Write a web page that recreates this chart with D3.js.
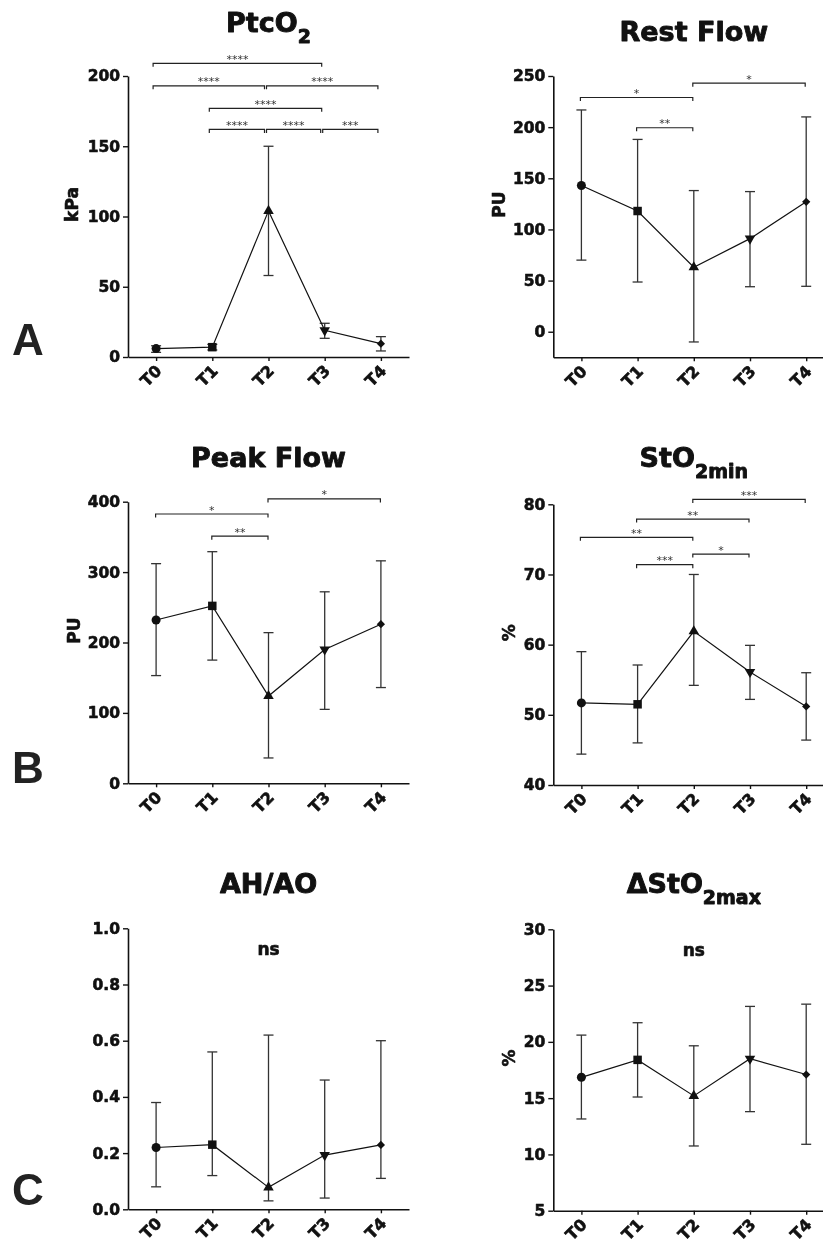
<!DOCTYPE html>
<html>
<head>
<meta charset="utf-8">
<script src="https://cdn.jsdelivr.net/npm/d3@7"></script>
<style>
  body { margin: 0; background: #fff; }
  svg { display: block; filter: grayscale(100%); }
  text { font-family: "DejaVu Sans", sans-serif; }
</style>
</head>
<body>
<div id="chart"></div>
<script>
// time points
const times = ["T0", "T1", "T2", "T3", "T4"];

// PtcO2 (kPa)
const ptcMean = [6, 7, 104, 19, 9.5];
const ptcLow = [3.3, 5, 58, 13.3, 4.3];
const ptcHigh = [8, 9, 150, 24, 14.5];
const ptcTicks = [0, 50, 100, 150, 200];
const ptcSig = [[0, 3, 209, "****"], [0, 2, 193, "****"], [2, 4, 193, "****"],
                [1, 3, 177, "****"], [1, 2, 162, "****"], [2, 3, 162, "****"], [3, 4, 162, "***"]];

// Rest flow (PU)
const restMean = [143, 118, 63, 91, 127];
const restLow = [70, 48.6, -10, 44, 44.4];
const restHigh = [216.8, 188, 138, 137, 210];
const restTicks = [0, 50, 100, 150, 200, 250];
const restSig = [[2, 4, 243, "*"], [0, 2, 229, "*"], [1, 2, 199.4, "**"]];

// Peak flow (PU)
const peakMean = [232, 252, 124, 190, 226];
const peakLow = [153, 175, 36, 105, 136];
const peakHigh = [312, 329, 214, 272, 316];
const peakTicks = [0, 100, 200, 300, 400];
const peakSig = [[2, 4, 404, "*"], [0, 2, 382.5, "*"], [1, 2, 351, "**"]];

// StO2 min (%)
const stoMean = [51.7, 51.5, 61.9, 56.1, 51.2];
const stoLow = [44.4, 46.0, 54.2, 52.2, 46.4];
const stoHigh = [59.0, 57.1, 70.0, 59.9, 56.0];
const stoTicks = [40, 50, 60, 70, 80];
const stoSig = [[2, 4, 80.7, "***"], [1, 3, 77.9, "**"], [0, 2, 75.3, "**"],
                [2, 3, 72.9, "*"], [1, 2, 71.4, "***"]];

// AH/AO
const ahMean = [0.22, 0.23, 0.078, 0.193, 0.229];
const ahLow = [0.08, 0.12, 0.03, 0.04, 0.11];
const ahHigh = [0.38, 0.56, 0.62, 0.46, 0.60];
const ahTicks = [0, 0.2, 0.4, 0.6, 0.8, 1.0];

// delta StO2 max (%)
const dstoMean = [16.85, 18.4, 15.2, 18.5, 17.1];
const dstoLow = [13.15, 15.1, 10.75, 13.8, 10.9];
const dstoHigh = [20.6, 21.7, 19.65, 23.15, 23.35];
const dstoTicks = [5, 10, 15, 20, 25, 30];

const W = 823, H = 1245;
const svg = d3.select("#chart").append("svg")
  .attr("width", W).attr("height", H);

// panel layout
const panels = [
  {title: "PtcO", sub: "2", ax: 128, top: 76, bottom: 357, dom: [0, 200], ticks: ptcTicks,
   mean: ptcMean, low: ptcLow, high: ptcHigh, sig: ptcSig, ylab: "kPa", ylx: 78, tY: 31.7, bShift: -3},
  {title: "Rest Flow", sub: "", ax: 553.3, top: 76, bottom: 357.3, dom: [-25, 250], ticks: restTicks,
   mean: restMean, low: restLow, high: restHigh, sig: restSig, ylab: "PU", ylx: 505, tY: 40.7, bShift: -1},
  {title: "Peak Flow", sub: "", ax: 128, top: 501.7, bottom: 783.3, dom: [0, 400], ticks: peakTicks,
   mean: peakMean, low: peakLow, high: peakHigh, sig: peakSig, ylab: "PU", ylx: 80, tY: 467.3, bShift: -0.5},
  {title: "StO", sub: "2min", ax: 553.3, top: 504.3, bottom: 785, dom: [40, 80], ticks: stoTicks,
   mean: stoMean, low: stoLow, high: stoHigh, sig: stoSig, ylab: "%", ylx: 515, tY: 467.3, bShift: -1},
  {title: "AH/AO", sub: "", ax: 128, top: 928.3, bottom: 1209.3, dom: [0, 1], ticks: ahTicks, fmt: d3.format(".1f"),
   mean: ahMean, low: ahLow, high: ahHigh, sig: [], ns: 0.905, ylab: "", ylx: 0, tY: 893.3, bShift: 0},
  {title: "\u0394StO", sub: "2max", ax: 553.3, top: 929.3, bottom: 1210.7, dom: [5, 30], ticks: dstoTicks,
   mean: dstoMean, low: dstoLow, high: dstoHigh, sig: [], ns: 27.6, ylab: "%", ylx: 515, tY: 892.7, bShift: 0}
];

const symbols = [
  {type: d3.symbolCircle, size: 64, rot: 0},
  {type: d3.symbolSquare, size: 72, rot: 0},
  {type: d3.symbolTriangle, size: 48, rot: 0},
  {type: d3.symbolTriangle, size: 48, rot: 180},
  {type: d3.symbolSquare, size: 34, rot: 45}
];

// heavy bold text, like the original figure
function heavy(sel, size, sw) {
  sel.attr("fill", "#111")
    .attr("stroke", "#111")
    .attr("stroke-width", sw)
    .attr("stroke-linejoin", "round")
    .style("font-size", size + "px")
    .style("font-weight", "bold");
}

panels.forEach(function(p) {
  const g = svg.append("g");

  const x = d3.scalePoint()
    .domain(times)
    .range([p.ax, p.ax + 281])
    .padding(0.5);
  const y = d3.scaleLinear()
    .domain(p.dom)
    .range([p.bottom, p.top]);

  // Y axis
  const yAx = g.append("g")
    .attr("transform", `translate(${p.ax},0)`)
    .call(d3.axisLeft(y).tickValues(p.ticks).tickSize(5).tickSizeOuter(0).tickPadding(3)
      .tickFormat(p.fmt || d3.format("d")));
  yAx.select(".domain").attr("stroke", "#111").attr("stroke-width", 1.6);
  yAx.selectAll(".tick line").attr("stroke", "#111").attr("stroke-width", 1.4);
  yAx.selectAll(".tick text").call(heavy, 15.5, 0.6);

  // X axis
  const xAx = g.append("g")
    .attr("transform", `translate(0,${p.bottom})`)
    .call(d3.axisBottom(x).tickSize(4).tickSizeOuter(0));
  xAx.select(".domain").attr("stroke", "#111").attr("stroke-width", 1.6);
  xAx.selectAll(".tick line").attr("stroke", "#111").attr("stroke-width", 1.4);
  xAx.selectAll(".tick text")
    .attr("y", 0).attr("dy", null)
    .attr("transform", "translate(6,15)rotate(-45)")
    .style("text-anchor", "end")
    .call(heavy, 16, 0.6);

  // title
  const t = g.append("text")
    .attr("x", x("T2"))
    .attr("y", p.tY)
    .attr("text-anchor", "middle")
    .call(heavy, 27, 0.9);
  t.append("tspan").text(p.title);
  if (p.sub) {
    t.append("tspan").attr("dy", 11).style("font-size", "19px").text(p.sub);
  }

  // y label
  if (p.ylab) {
    g.append("text")
      .attr("transform", `translate(${p.ylx},${(p.top + p.bottom) / 2 - 12})rotate(-90)`)
      .attr("text-anchor", "middle")
      .call(heavy, 17, 0.6)
      .text(p.ylab);
  }

  // error bars
  times.forEach(function(tp, i) {
    const cx = x(tp);
    g.append("line")
      .attr("x1", cx).attr("x2", cx)
      .attr("y1", y(p.low[i])).attr("y2", y(p.high[i]))
      .attr("stroke", "#333").attr("stroke-width", 1.3);
    [p.low[i], p.high[i]].forEach(function(v) {
      g.append("line")
        .attr("x1", cx - 5).attr("x2", cx + 5)
        .attr("y1", y(v)).attr("y2", y(v))
        .attr("stroke", "#333").attr("stroke-width", 1.3);
    });
  });

  // mean line
  g.append("path")
    .datum(p.mean)
    .attr("fill", "none")
    .attr("stroke", "#111")
    .attr("stroke-width", 1.2)
    .attr("d", d3.line().x(function(d, i) { return x(times[i]); }).y(function(d) { return y(d); }));

  // markers
  g.selectAll("mymarker")
    .data(p.mean)
    .join("path")
      .attr("transform", function(d, i) { return `translate(${x(times[i])},${y(d)})rotate(${symbols[i].rot})`; })
      .attr("d", function(d, i) { return d3.symbol().type(symbols[i].type).size(symbols[i].size)(); })
      .attr("fill", "#111");

  // significance brackets
  p.sig.forEach(function(s) {
    const shared = function(idx, own) {
      return p.sig.some(function(o) { return o !== own && o[2] === own[2] && (o[0] === idx || o[1] === idx); });
    };
    const x1 = x(times[s[0]]) + p.bShift + (shared(s[0], s) ? 1 : 0);
    const x2 = x(times[s[1]]) + p.bShift - (shared(s[1], s) ? 1 : 0);
    const yy = y(s[2]);
    g.append("path")
      .attr("d", `M${x1},${yy + 3.5}V${yy}H${x2}V${yy + 3.5}`)
      .attr("fill", "none")
      .attr("stroke", "#222")
      .attr("stroke-width", 1.2);
    g.append("text")
      .attr("x", (x1 + x2) / 2)
      .attr("y", yy - 0.5)
      .attr("text-anchor", "middle")
      .attr("fill", "#333")
      .style("font-size", "11px")
      .text(s[3]);
  });

  // ns label
  if (p.ns !== undefined) {
    g.append("text")
      .attr("x", x("T2"))
      .attr("y", y(p.ns))
      .attr("text-anchor", "middle")
      .call(heavy, 17, 0.6)
      .text("ns");
  }
});

// panel letters
const letters = ["A", "B", "C"];
const letterY = [355, 783, 1205];
letters.forEach(function(l, i) {
  svg.append("text")
    .attr("x", 12)
    .attr("y", letterY[i])
    .attr("fill", "#222")
    .style("font-family", "'Liberation Sans', Arial, sans-serif")
    .style("font-size", "44px").style("font-weight", "bold")
    .text(l);
});
</script>
</body>
</html>
